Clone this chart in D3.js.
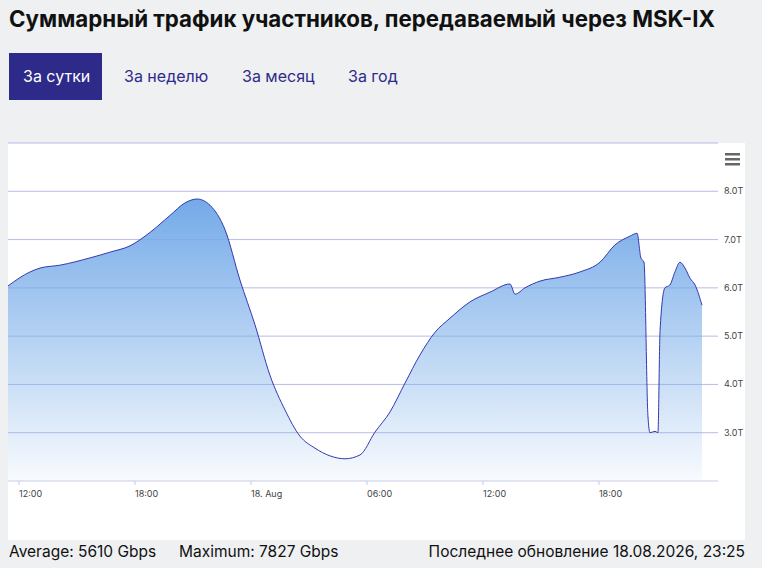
<!DOCTYPE html><html><head><meta charset="utf-8">
<script src="https://cdn.jsdelivr.net/npm/d3@7"></script>
<style>body{margin:0;background:#eef0f2;font-family:Inter,"Noto Sans",sans-serif;}</style></head><body>
<svg id="c" width="762" height="568"></svg>
<script>
const hours=[11.43,12.57,13.09,14.12,15.67,16.71,17.74,18.78,19.81,20.59,21.21,21.88,22.66,23.43,24.21,24.98,25.76,26.53,27.31,28.09,28.86,29.64,30.41,31.19,31.97,32.74,33.52,34.29,35.33,36.36,37.40,37.66,38.17,38.95,39.98,41.02,42.05,42.83,43.60,43.97,44.17,44.33,44.53,44.64,44.90,45.05,45.16,45.41,45.67,45.93,46.19,46.45,46.71,46.97,47.33];
const traffic=[6.04,6.33,6.41,6.47,6.62,6.74,6.87,7.15,7.5,7.76,7.84,7.71,7.2,6.16,5.23,4.19,3.47,2.93,2.68,2.52,2.46,2.54,3.01,3.43,4.03,4.61,5.08,5.37,5.71,5.91,6.08,5.87,6.0,6.14,6.22,6.33,6.53,6.89,7.07,7.13,6.62,6.53,3.37,3.0,3.03,3.0,5.12,6.0,6.06,6.33,6.53,6.41,6.2,6.06,5.64];
const yTicks=[3,4,5,6,7,8];
const tabs=["За сутки","За неделю","За месяц","За год"];
const base=new Date(2026,7,17).getTime();
const data=hours.map((h,i)=>({t:new Date(base+h*3600e3),v:traffic[i]}));
const svg=d3.select("#c");
svg.append("text").attr("x",9).attr("y",27).attr("font-size",22.3).attr("font-weight",700).attr("fill","#111").text("Суммарный трафик участников, передаваемый через MSK-IX");
const tabX=[9,124,242,348];
svg.append("rect").attr("x",9).attr("y",53).attr("width",93).attr("height",47).attr("fill","#2e2a8a");
tabs.forEach((t,i)=>svg.append("text").attr("x",i==0?23:tabX[i]).attr("y",82).attr("font-size",16).attr("fill",i==0?"#fff":"#2e2a8a").text(t));
svg.append("rect").attr("x",8).attr("y",143).attr("width",737).attr("height",397).attr("fill","#fff");
const x=d3.scaleTime().domain([new Date(base+11.43*3600e3),new Date(base+47.33*3600e3)]).range([8,702]);
const y=d3.scaleLinear().domain([2,9]).range([481,143]);
const g=svg.append("g");
[2,...yTicks,9].forEach(v=>g.append("line").attr("x1",8).attr("x2",718).attr("y1",y(v)).attr("y2",y(v)).attr("stroke",v==2?"#c8cbe6":"#b9bce6").attr("stroke-width",1));
yTicks.forEach(v=>g.append("text").attr("x",724).attr("y",y(v)+3).attr("font-size",9).attr("fill","#444").text(v.toFixed(1)+"T"));
const defs=svg.append("defs");const gr=defs.append("linearGradient").attr("id","gr").attr("x1",0).attr("x2",0).attr("y1",0).attr("y2",1);
gr.append("stop").attr("offset","0%").attr("stop-color","#74aae8");
gr.append("stop").attr("offset","100%").attr("stop-color","#74aae8").attr("stop-opacity",0.05);
const cv=d3.curveMonotoneX;
svg.append("path").datum(data).attr("fill","url(#gr)").attr("d",d3.area().curve(cv).x(d=>x(d.t)).y0(481).y1(d=>y(d.v)));
svg.append("path").datum(data).attr("fill","none").attr("stroke","#3338b0").attr("stroke-width",1).attr("d",d3.line().curve(cv).x(d=>x(d.t)).y(d=>y(d.v)));
const xt=[12,18,24,30,36,42].map(h=>new Date(base+h*3600e3));
const fmt=d=>d.getHours()==0?"18. Aug":d3.timeFormat("%H:%M")(d);
xt.forEach(d=>{g.append("line").attr("x1",x(d)).attr("x2",x(d)).attr("y1",481).attr("y2",485).attr("stroke","#c8cbe6");
g.append("text").attr("x",x(d)).attr("y",497).attr("font-size",9).attr("fill","#444").text(fmt(d));});
[0,5,10].forEach(o=>svg.append("rect").attr("x",725).attr("y",153+o).attr("width",15).attr("height",2.5).attr("fill","#666"));
svg.append("text").attr("x",9).attr("y",557).attr("font-size",15.5).attr("fill","#111").text("Average: 5610 Gbps");
svg.append("text").attr("x",179).attr("y",557).attr("font-size",15.5).attr("fill","#111").text("Maximum: 7827 Gbps");
svg.append("text").attr("x",745).attr("y",557).attr("text-anchor","end").attr("font-size",15.5).attr("fill","#111").text("Последнее обновление 18.08.2026, 23:25");
</script></body></html>
